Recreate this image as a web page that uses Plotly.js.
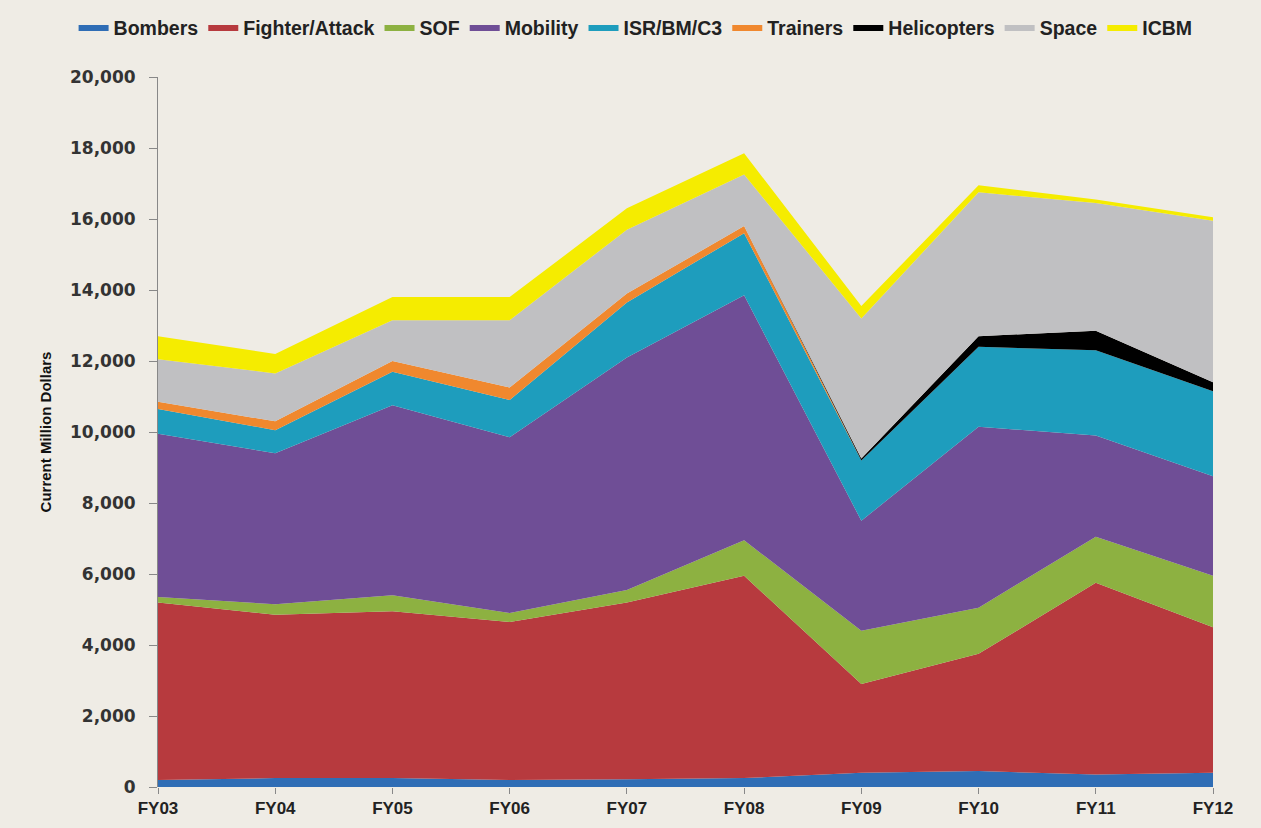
<!DOCTYPE html>
<html>
<head>
<meta charset="utf-8">
<script src="https://cdn.plot.ly/plotly-3.0.1.min.js"></script>
<style>
html,body{margin:0;padding:0;background:#efece5;}
#chart{width:1261px;height:828px;}
</style>
</head>
<body>
<div id="chart"></div>
<script>
const years = ["FY03","FY04","FY05","FY06","FY07","FY08","FY09","FY10","FY11","FY12"];
const seriesNames = ["Bombers","Fighter/Attack","SOF","Mobility","ISR/BM/C3","Trainers","Helicopters","Space","ICBM"];
const seriesColors = ["#2f6db5","#b73a3e","#8db141","#6f4e96","#1e9dbd","#f0882e","#000000","#c0c0c2","#f5ec00"];
const bombers    = [200, 250, 250, 200, 220, 250, 400, 450, 350, 400];
const fighter    = [5000, 4600, 4700, 4450, 4980, 5700, 2500, 3300, 5400, 4100];
const sof        = [150, 300, 450, 250, 350, 1000, 1500, 1300, 1300, 1450];
const mobility   = [4600, 4250, 5350, 4950, 6550, 6900, 3100, 5100, 2850, 2800];
const isr        = [700, 650, 950, 1050, 1550, 1750, 1700, 2250, 2400, 2400];
const trainers   = [200, 250, 300, 350, 250, 200, 0, 0, 0, 0];
const helicopters= [0, 0, 0, 0, 0, 0, 50, 300, 550, 250];
const space      = [1200, 1350, 1150, 1900, 1800, 1450, 3950, 4050, 3600, 4550];
const icbm       = [650, 550, 650, 650, 600, 600, 350, 200, 100, 100];
const seriesValues = [bombers, fighter, sof, mobility, isr, trainers, helicopters, space, icbm];

const traces = seriesNames.map((name, i) => ({
  type: "scatter",
  mode: "lines",
  name: name,
  x: years,
  y: seriesValues[i],
  stackgroup: "one",
  line: {width: 0, color: seriesColors[i]},
  fillcolor: seriesColors[i],
  hoverinfo: "x+y+name"
}));

const layout = {
  width: 1261,
  height: 828,
  paper_bgcolor: "#efece5",
  plot_bgcolor: "#efece5",
  margin: {l: 158, r: 48, t: 77, b: 41, autoexpand: false},
  font: {family: "Liberation Sans, sans-serif", color: "#222"},
  showlegend: true,
  legend: {
    orientation: "h",
    traceorder: "normal",
    x: -0.08, xanchor: "left",
    y: 1.07, yanchor: "middle",
    font: {size: 19.5, family: "Liberation Sans, sans-serif", color: "#222", weight: "bold"},
    itemwidth: 30,
    bgcolor: "rgba(0,0,0,0)"
  },
  xaxis: {
    type: "category",
    range: [0, 9],
    showgrid: false,
    zeroline: false,
    showline: false,
    ticks: "outside",
    ticklen: 6,
    tickcolor: "#888",
    tickfont: {size: 17, family: "Liberation Sans, sans-serif", color: "#222", weight: "bold"}
  },
  yaxis: {
    range: [0, 20000],
    tickvals: [0,2000,4000,6000,8000,10000,12000,14000,16000,18000,20000],
    tickformat: ",d",
    showgrid: false,
    zeroline: false,
    showline: true,
    linecolor: "#888",
    linewidth: 1,
    ticks: "outside",
    ticklen: 8,
    tickcolor: "#888",
    ticklabelstandoff: 10,
    tickfont: {size: 17, family: "DejaVu Sans, sans-serif", color: "#333", weight: "bold"},
    title: {text: "Current Million Dollars", standoff: 14,
            font: {size: 15, family: "Liberation Sans, sans-serif", color: "#111", weight: "bold"}}
  }
};

Plotly.newPlot("chart", traces, layout, {displayModeBar: false, staticPlot: true});
</script>
</body>
</html>
